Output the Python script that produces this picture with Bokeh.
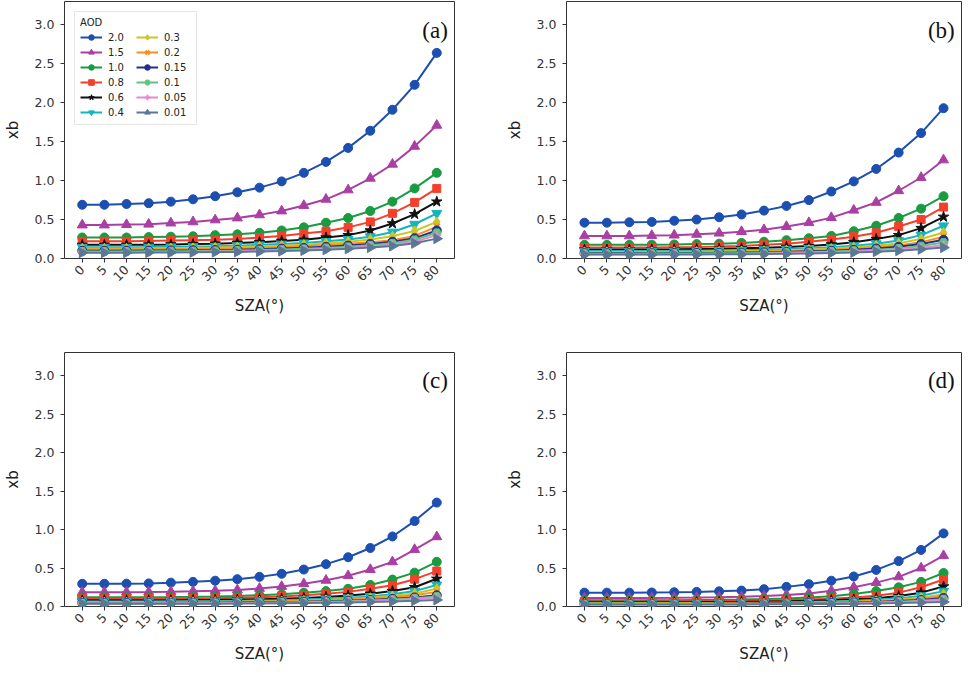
import math
from bokeh.plotting import figure
from bokeh.models import Range1d, FixedTicker, Legend, LegendItem, Label, PrintfTickFormatter
from bokeh.layouts import gridplot
from bokeh.embed import file_html
from bokeh.resources import INLINE

# ---------------- data ----------------
sza = [0, 5, 10, 15, 20, 25, 30, 35, 40, 45, 50, 55, 60, 65, 70, 75, 80]
aod_labels = ["2.0", "1.5", "1.0", "0.8", "0.6", "0.4", "0.3", "0.2", "0.15", "0.1", "0.05", "0.01"]
yticks = [0.0, 0.5, 1.0, 1.5, 2.0, 2.5, 3.0]
panel_tags = ["(a)", "(b)", "(c)", "(d)"]

# rows follow aod_labels order
xb_a = [
    [0.69, 0.69, 0.70, 0.71, 0.73, 0.76, 0.80, 0.85, 0.91, 0.99, 1.10, 1.24, 1.42, 1.64, 1.91, 2.23, 2.64],
    [0.43, 0.43, 0.435, 0.44, 0.455, 0.47, 0.495, 0.52, 0.56, 0.61, 0.68, 0.76, 0.88, 1.03, 1.21, 1.44, 1.71],
    [0.27, 0.27, 0.27, 0.275, 0.28, 0.285, 0.30, 0.31, 0.33, 0.36, 0.40, 0.46, 0.52, 0.61, 0.73, 0.90, 1.10],
    [0.22, 0.22, 0.22, 0.225, 0.23, 0.235, 0.24, 0.25, 0.27, 0.29, 0.32, 0.35, 0.40, 0.47, 0.58, 0.72, 0.90],
    [0.175, 0.175, 0.175, 0.178, 0.18, 0.185, 0.19, 0.20, 0.21, 0.225, 0.24, 0.27, 0.30, 0.36, 0.45, 0.57, 0.73],
    [0.145, 0.145, 0.145, 0.147, 0.15, 0.153, 0.158, 0.165, 0.175, 0.185, 0.20, 0.22, 0.245, 0.28, 0.34, 0.44, 0.58],
    [0.13, 0.13, 0.13, 0.132, 0.134, 0.137, 0.141, 0.147, 0.155, 0.165, 0.178, 0.195, 0.215, 0.245, 0.285, 0.355, 0.47],
    [0.115, 0.115, 0.115, 0.117, 0.119, 0.121, 0.125, 0.13, 0.137, 0.146, 0.157, 0.172, 0.19, 0.21, 0.235, 0.29, 0.41],
    [0.10, 0.10, 0.10, 0.102, 0.104, 0.106, 0.109, 0.113, 0.119, 0.127, 0.137, 0.15, 0.166, 0.187, 0.215, 0.26, 0.36],
    [0.09, 0.09, 0.09, 0.092, 0.094, 0.096, 0.099, 0.103, 0.108, 0.115, 0.124, 0.136, 0.15, 0.17, 0.195, 0.24, 0.33],
    [0.082, 0.082, 0.082, 0.083, 0.085, 0.087, 0.09, 0.093, 0.098, 0.104, 0.112, 0.123, 0.136, 0.154, 0.177, 0.215, 0.30],
    [0.075, 0.075, 0.075, 0.076, 0.077, 0.079, 0.082, 0.085, 0.089, 0.095, 0.102, 0.112, 0.124, 0.14, 0.16, 0.195, 0.255],
]
xb_b = [
    [0.46, 0.46, 0.465, 0.47, 0.485, 0.50, 0.53, 0.565, 0.615, 0.675, 0.75, 0.86, 0.99, 1.15, 1.36, 1.61, 1.93],
    [0.29, 0.29, 0.29, 0.295, 0.30, 0.31, 0.325, 0.345, 0.37, 0.41, 0.46, 0.525, 0.62, 0.72, 0.87, 1.04, 1.265],
    [0.175, 0.175, 0.175, 0.178, 0.18, 0.185, 0.19, 0.20, 0.215, 0.235, 0.26, 0.29, 0.35, 0.42, 0.52, 0.64, 0.80],
    [0.14, 0.14, 0.14, 0.142, 0.145, 0.148, 0.153, 0.16, 0.175, 0.19, 0.215, 0.245, 0.28, 0.33, 0.41, 0.50, 0.66],
    [0.115, 0.115, 0.115, 0.117, 0.119, 0.122, 0.126, 0.131, 0.138, 0.148, 0.16, 0.18, 0.21, 0.25, 0.30, 0.39, 0.535],
    [0.095, 0.095, 0.095, 0.097, 0.098, 0.10, 0.103, 0.107, 0.113, 0.12, 0.13, 0.145, 0.165, 0.19, 0.23, 0.30, 0.42],
    [0.085, 0.085, 0.085, 0.086, 0.087, 0.089, 0.092, 0.095, 0.10, 0.106, 0.115, 0.127, 0.143, 0.165, 0.195, 0.25, 0.333],
    [0.075, 0.075, 0.075, 0.076, 0.077, 0.079, 0.081, 0.084, 0.088, 0.094, 0.101, 0.111, 0.125, 0.143, 0.168, 0.21, 0.28],
    [0.068, 0.068, 0.068, 0.069, 0.07, 0.071, 0.073, 0.076, 0.08, 0.085, 0.092, 0.10, 0.112, 0.128, 0.15, 0.185, 0.24],
    [0.062, 0.062, 0.062, 0.063, 0.064, 0.065, 0.067, 0.069, 0.072, 0.076, 0.082, 0.09, 0.10, 0.113, 0.13, 0.16, 0.205],
    [0.055, 0.055, 0.055, 0.056, 0.057, 0.058, 0.059, 0.061, 0.064, 0.068, 0.073, 0.08, 0.089, 0.10, 0.115, 0.138, 0.17],
    [0.05, 0.05, 0.05, 0.05, 0.051, 0.052, 0.054, 0.056, 0.058, 0.061, 0.065, 0.071, 0.078, 0.088, 0.10, 0.118, 0.14],
]
xb_c = [
    [0.295, 0.295, 0.297, 0.30, 0.31, 0.32, 0.335, 0.355, 0.385, 0.425, 0.48, 0.55, 0.64, 0.76, 0.91, 1.11, 1.35],
    [0.185, 0.185, 0.186, 0.188, 0.192, 0.197, 0.205, 0.215, 0.235, 0.26, 0.295, 0.34, 0.40, 0.48, 0.58, 0.74, 0.905],
    [0.12, 0.12, 0.12, 0.121, 0.123, 0.126, 0.13, 0.137, 0.146, 0.16, 0.178, 0.20, 0.23, 0.28, 0.35, 0.44, 0.58],
    [0.10, 0.10, 0.10, 0.101, 0.103, 0.105, 0.108, 0.113, 0.12, 0.13, 0.145, 0.165, 0.19, 0.23, 0.275, 0.355, 0.46],
    [0.08, 0.08, 0.08, 0.081, 0.082, 0.084, 0.086, 0.09, 0.095, 0.102, 0.112, 0.125, 0.143, 0.165, 0.20, 0.25, 0.36],
    [0.065, 0.065, 0.065, 0.066, 0.067, 0.068, 0.07, 0.073, 0.077, 0.082, 0.09, 0.10, 0.113, 0.13, 0.158, 0.20, 0.28],
    [0.058, 0.058, 0.058, 0.059, 0.06, 0.061, 0.063, 0.065, 0.068, 0.073, 0.079, 0.087, 0.098, 0.113, 0.135, 0.17, 0.23],
    [0.052, 0.052, 0.052, 0.053, 0.053, 0.054, 0.056, 0.058, 0.061, 0.065, 0.07, 0.077, 0.087, 0.10, 0.118, 0.147, 0.19],
    [0.047, 0.047, 0.047, 0.047, 0.048, 0.049, 0.05, 0.052, 0.054, 0.057, 0.061, 0.067, 0.074, 0.085, 0.10, 0.118, 0.145],
    [0.043, 0.043, 0.043, 0.043, 0.044, 0.045, 0.046, 0.047, 0.049, 0.052, 0.056, 0.061, 0.068, 0.077, 0.09, 0.107, 0.13],
    [0.04, 0.04, 0.04, 0.04, 0.041, 0.042, 0.043, 0.044, 0.046, 0.049, 0.052, 0.057, 0.063, 0.071, 0.082, 0.097, 0.117],
    [0.035, 0.035, 0.035, 0.035, 0.036, 0.036, 0.037, 0.038, 0.04, 0.042, 0.045, 0.048, 0.053, 0.059, 0.066, 0.074, 0.085],
]
xb_d = [
    [0.18, 0.18, 0.18, 0.182, 0.185, 0.19, 0.197, 0.207, 0.225, 0.255, 0.29, 0.335, 0.39, 0.475, 0.59, 0.735, 0.95],
    [0.11, 0.11, 0.11, 0.112, 0.114, 0.117, 0.121, 0.127, 0.137, 0.15, 0.17, 0.205, 0.25, 0.31, 0.385, 0.50, 0.66],
    [0.08, 0.08, 0.08, 0.081, 0.082, 0.084, 0.087, 0.091, 0.097, 0.105, 0.116, 0.132, 0.162, 0.20, 0.25, 0.32, 0.435],
    [0.065, 0.065, 0.065, 0.066, 0.067, 0.068, 0.07, 0.073, 0.077, 0.083, 0.09, 0.10, 0.118, 0.14, 0.18, 0.25, 0.35],
    [0.055, 0.055, 0.055, 0.055, 0.056, 0.057, 0.059, 0.061, 0.064, 0.068, 0.074, 0.082, 0.093, 0.108, 0.135, 0.18, 0.26],
    [0.045, 0.045, 0.045, 0.045, 0.046, 0.047, 0.048, 0.05, 0.052, 0.055, 0.06, 0.066, 0.075, 0.087, 0.105, 0.14, 0.20],
    [0.04, 0.04, 0.04, 0.04, 0.041, 0.042, 0.043, 0.044, 0.046, 0.049, 0.053, 0.058, 0.065, 0.075, 0.09, 0.115, 0.16],
    [0.036, 0.036, 0.036, 0.036, 0.037, 0.037, 0.038, 0.04, 0.041, 0.044, 0.047, 0.051, 0.057, 0.066, 0.078, 0.098, 0.135],
    [0.033, 0.033, 0.033, 0.033, 0.034, 0.034, 0.035, 0.036, 0.038, 0.04, 0.043, 0.047, 0.052, 0.06, 0.07, 0.085, 0.11],
    [0.03, 0.03, 0.03, 0.03, 0.031, 0.031, 0.032, 0.033, 0.034, 0.036, 0.039, 0.042, 0.047, 0.053, 0.062, 0.075, 0.095],
    [0.028, 0.028, 0.028, 0.028, 0.029, 0.029, 0.03, 0.031, 0.032, 0.034, 0.036, 0.039, 0.043, 0.049, 0.056, 0.067, 0.085],
    [0.025, 0.025, 0.025, 0.025, 0.025, 0.026, 0.026, 0.027, 0.028, 0.029, 0.031, 0.033, 0.036, 0.04, 0.045, 0.051, 0.06],
]

# ---------------- styles ----------------
colors = ["#1c4fb0", "#aa3fa3", "#199b3f", "#f2402c", "#111111", "#17b3bf",
          "#c9c724", "#ff8c1e", "#252f8c", "#5fc47e", "#e58ad0", "#5a7896"]
markers = ["circle", "triangle", "circle", "square", "star", "inverted_triangle",
           "diamond", "x", "circle", "hex", "cross", "triangle"]
msizes = [9, 10, 9, 8, 11, 10, 10, 8, 9, 9, 9, 10]
mangles = [0, 0, 0, 0, 0, 0, 0, 0, 0, 0, 0, -math.pi / 2]

FONT = "DejaVu Sans"


def make_panel(data, tag, width, height, bl, br, bt, bb, with_legend=False):
    p = figure(width=width, height=height,
               x_range=Range1d(-4, 84), y_range=Range1d(0, 3.3),
               output_backend="svg", toolbar_location=None,
               min_border_left=bl, min_border_right=br,
               min_border_top=bt, min_border_bottom=bb)
    p.background_fill_color = "white"
    p.border_fill_color = "white"
    p.outline_line_color = "#333333"
    p.outline_line_width = 1
    p.xgrid.visible = False
    p.ygrid.visible = False

    for ax in (p.xaxis[0], p.yaxis[0]):
        ax.axis_line_color = None
        ax.major_tick_in = 0
        ax.major_tick_out = 4
        ax.minor_tick_line_color = None
        ax.major_tick_line_color = "#333333"
        ax.major_label_text_font = FONT
        ax.major_label_text_font_size = "12.5px"
        ax.major_label_text_color = "#333333"
        ax.axis_label_text_font = FONT
        ax.axis_label_text_font_size = "15px"
        ax.axis_label_text_font_style = "normal"
        ax.axis_label_text_color = "#222222"

    p.xaxis.ticker = FixedTicker(ticks=sza)
    p.xaxis.major_label_orientation = math.pi / 4
    p.xaxis.major_label_standoff = 5
    p.xaxis.axis_label = "SZA(°)"
    p.xaxis.axis_label_standoff = 9

    p.yaxis.ticker = FixedTicker(ticks=yticks)
    p.yaxis.formatter = PrintfTickFormatter(format="%.1f")
    p.yaxis.major_label_standoff = 6
    p.yaxis.axis_label = "xb"
    p.yaxis.axis_label_standoff = 10

    items = []
    for i, ys in enumerate(data):
        c = colors[i]
        ln = p.line(sza, ys, line_color=c, line_width=2)
        mk = markers[i]
        if mk in ("x", "cross"):
            sc = p.scatter(sza, ys, marker=mk, size=msizes[i], line_color=c, line_width=2)
        else:
            sc = p.scatter(sza, ys, marker=mk, size=msizes[i], fill_color=c,
                           line_color=c, line_width=1, angle=mangles[i])
        items.append(LegendItem(label=aod_labels[i], renderers=[ln, sc]))

    p.add_layout(Label(x=82.5, y=2.93, text=tag, text_align="right", text_baseline="middle",
                       text_font="Liberation Serif", text_font_size="23px", text_color="#111111"))

    if with_legend:
        lg = Legend(items=items, location="top_left", nrows=6, title="AOD")
        lg.title_text_font = FONT
        lg.title_text_font_size = "10px"
        lg.title_text_font_style = "normal"
        lg.title_text_color = "#222222"
        lg.title_standoff = 2
        lg.label_text_font = FONT
        lg.label_text_font_size = "10px"
        lg.label_text_color = "#222222"
        lg.glyph_width = 22
        lg.glyph_height = 14
        lg.label_height = 14
        lg.label_width = 27
        lg.label_standoff = 6
        lg.spacing = 1
        lg.padding = 5
        lg.margin = 10
        lg.border_line_color = "#cccccc"
        lg.background_fill_alpha = 0.85
        p.add_layout(lg)
    return p


pa = make_panel(xb_a, panel_tags[0], 485, 324, 57, 31, 1, 66, with_legend=True)
pb = make_panel(xb_b, panel_tags[1], 477, 324, 81, 1, 1, 66)
pc = make_panel(xb_c, panel_tags[2], 485, 342, 57, 31, 28, 58)
pd = make_panel(xb_d, panel_tags[3], 477, 342, 81, 1, 28, 58)

grid = gridplot([[pa, pb], [pc, pd]], toolbar_location=None)

open("out.html", "w").write(file_html(grid, INLINE))
